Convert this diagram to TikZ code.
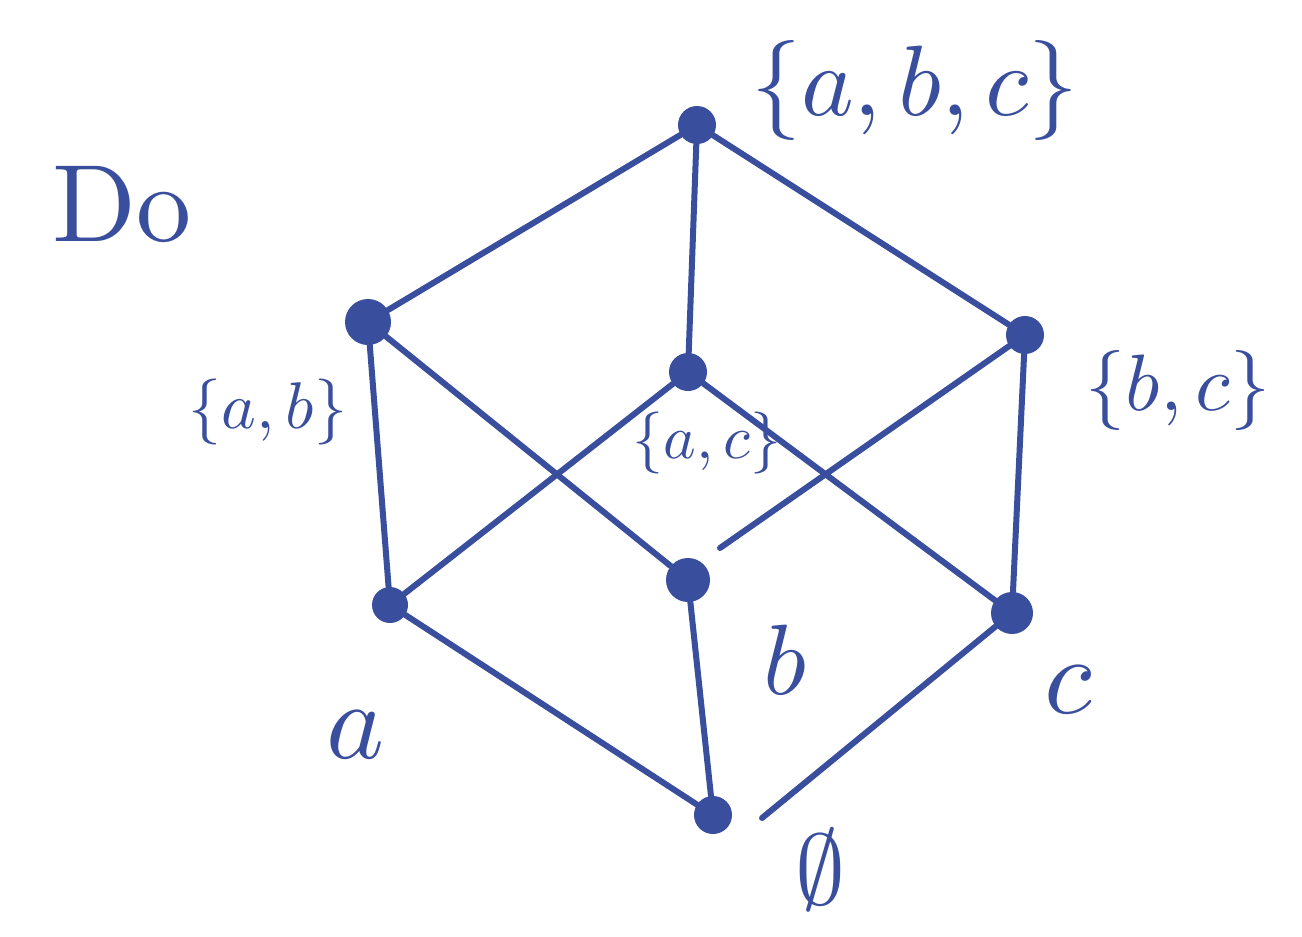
\documentclass[tikz,border=0pt]{standalone}
\definecolor{ink}{RGB}{58,78,158}
\tikzset{
  edge/.style={draw=ink, line width=6pt, line cap=round},
  dot/.style={circle, fill=ink, inner sep=0pt, minimum size=#1},
  lbl/.style={text=ink, inner sep=0pt, transform shape, scale=#1},
  lbl/.default=6.4
}
\begin{document}
\begin{tikzpicture}[x=1pt,y=-1pt]
\useasboundingbox (0,0) rectangle (1302,937);
\fill[white] (0,0) rectangle (1302,937);
% nodes
\node[dot=38pt] (abc) at (697,125) {};
\node[dot=46pt] (ab) at (368,322) {};
\node[dot=38pt] (ac) at (688,372) {};
\node[dot=38pt] (bc) at (1025,335) {};
\node[dot=36pt] (a) at (390,605) {};
\node[dot=44pt] (b) at (688,580) {};
\node[dot=42pt] (c) at (1012,613) {};
\node[dot=38pt] (e) at (713,815) {};
\coordinate (bcgap) at (720,548);
\coordinate (cgap) at (762,818);
% edges
\draw[edge] (abc) -- (ab);
\draw[edge] (abc) -- (ac);
\draw[edge] (abc) -- (bc);
\draw[edge] (ab) -- (a);
\draw[edge] (ab) -- (b);
\draw[edge] (ac) -- (a);
\draw[edge] (ac) -- (c);
\draw[edge] (bc) -- (bcgap);
\draw[edge] (bc) -- (c);
\draw[edge] (a) -- (e);
\draw[edge] (b) -- (e);
\draw[edge] (c) -- (cgap);
% labels
\node[lbl=11] (tDo) at (122,205) {Do};
\node[lbl=10] (tabc) at (915,90) {$\{a,b,c\}$};
\node[lbl=6.6] (tab) at (268,412) {$\{a,b\}$};
\node[lbl=6.2] (tac) at (707,443) {$\{a,c\}$};
\node[lbl=8] (tbc) at (1178,390) {$\{b,c\}$};
\node[lbl=11] (ta) at (356,735) {$a$};
\node[lbl=10] (tb) at (785,660) {$b$};
\node[lbl=11] (tc) at (1068,690) {$c$};
\node[lbl=10] (te) at (820,870) {$\emptyset$};
\end{tikzpicture}
\end{document}
